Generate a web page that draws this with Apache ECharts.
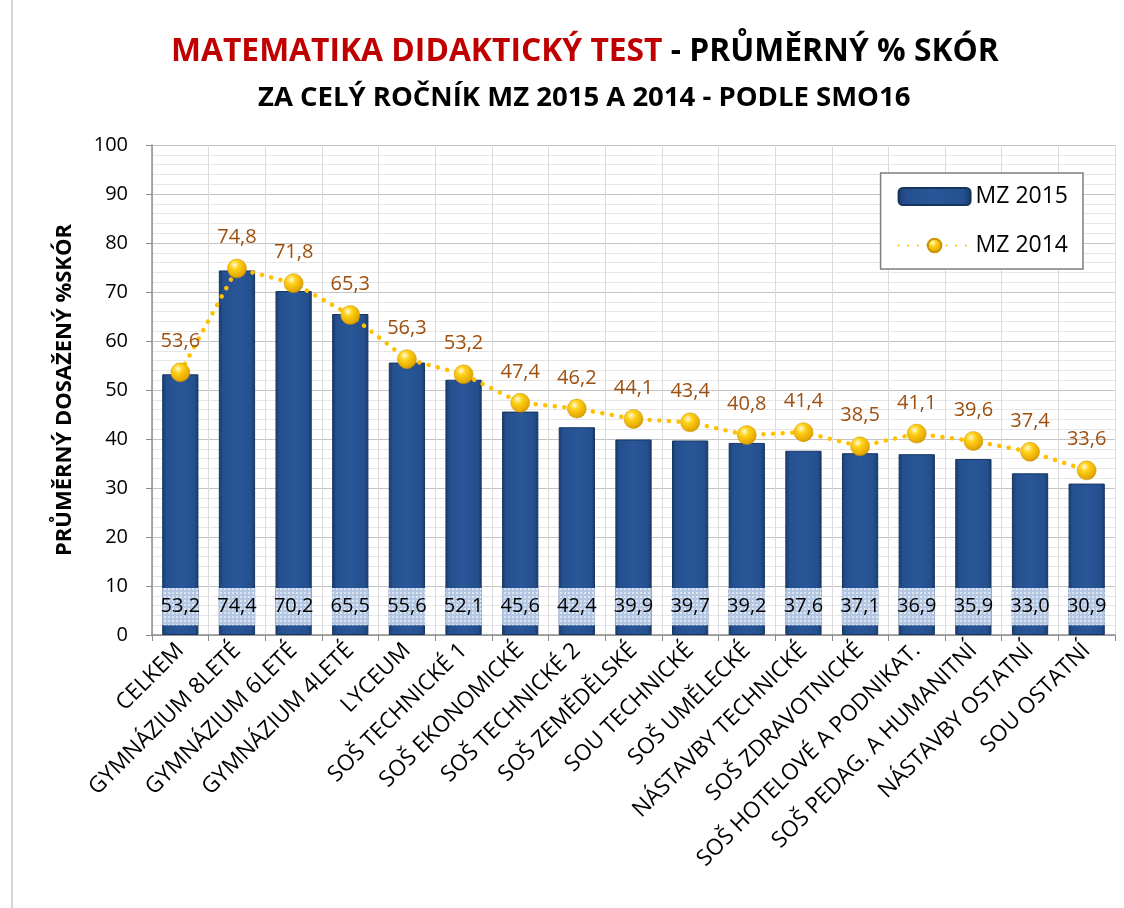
<!DOCTYPE html>
<html>
<head>
<meta charset="utf-8">
<script src="https://cdn.jsdelivr.net/npm/echarts@6/dist/echarts.min.js"></script>
<style>
  html, body { margin:0; padding:0; background:#fff; }
  #chart { width:1124px; height:908px; }
</style>
</head>
<body>
<div id="chart"></div>
<script>
const categories = ['CELKEM','GYMNÁZIUM 8LETÉ','GYMNÁZIUM 6LETÉ','GYMNÁZIUM 4LETÉ','LYCEUM','SOŠ TECHNICKÉ 1','SOŠ EKONOMICKÉ','SOŠ TECHNICKÉ 2','SOŠ ZEMĚDĚLSKÉ','SOU TECHNICKÉ','SOŠ UMĚLECKÉ','NÁSTAVBY TECHNICKÉ','SOŠ ZDRAVOTNICKÉ','SOŠ HOTELOVÉ A PODNIKAT.','SOŠ PEDAG. A HUMANITNÍ','NÁSTAVBY OSTATNÍ','SOU OSTATNÍ'];
const mz2015 = [53.2,74.4,70.2,65.5,55.6,52.1,45.6,42.4,39.9,39.7,39.2,37.6,37.1,36.9,35.9,33.0,30.9];
const mz2014 = [53.6,74.8,71.8,65.3,56.3,53.2,47.4,46.2,44.1,43.4,40.8,41.4,38.5,41.1,39.6,37.4,33.6];
// label band inside bars (value range)
const bandFrom = 2, bandTo = 9.6;

const fmt = v => v.toFixed(1).replace('.', ',');

const chart = echarts.init(document.getElementById('chart'));

const barColor = new echarts.graphic.LinearGradient(0,0,1,0,[
  { offset:0, color:'#1a3b6c' },
  { offset:0.12, color:'#25508f' },
  { offset:0.5, color:'#285698' },
  { offset:0.88, color:'#25508f' },
  { offset:1, color:'#1a3b6c' }
]);
const ball = new echarts.graphic.RadialGradient(0.38,0.32,0.75,[
  { offset:0, color:'#fffbe0' },
  { offset:0.3, color:'#ffd21a' },
  { offset:0.8, color:'#e6a800' },
  { offset:1, color:'#b98400' }
]);

chart.setOption({
  backgroundColor:'#fff',
  animation:false,
  title:[
    { text:'{r|MATEMATIKA DIDAKTICKÝ TEST}{k| - PRŮMĚRNÝ % SKÓR}', left:166, top:31,
      textStyle:{ rich:{
        r:{ fontFamily:'Open Sans', fontWeight:'bold', fontSize:31.8, color:'#c00000' },
        k:{ fontFamily:'Open Sans', fontWeight:'bold', fontSize:31.8, color:'#000' } } } },
    { text:'ZA CELÝ ROČNÍK MZ 2015 A 2014 - PODLE SMO16', left:253, top:79,
      textStyle:{ fontFamily:'Open Sans', fontWeight:'bold', fontSize:27.5, color:'#000' } }
  ],
  legend:{
    right:41, top:173, orient:'vertical', itemGap:26, padding:[12,15,12,17],
    backgroundColor:'#fff', borderColor:'#7f7f7f', borderWidth:1.5,
    itemWidth:72, itemHeight:17,
    textStyle:{ fontFamily:'Open Sans', fontSize:23, color:'#000' },
    data:['MZ 2015','MZ 2014']
  },
  grid:{ left:152, right:9, top:145, bottom:273 },
  xAxis:{
    type:'category', data:categories,
    axisLine:{ lineStyle:{ color:'#8c8c8c', width:1.5 } },
    axisTick:{ show:true, length:6, lineStyle:{ color:'#8c8c8c' } },
    splitLine:{ show:true, lineStyle:{ color:'#dcdcdc' } },
    axisLabel:{ rotate:45, interval:0, margin:12, fontFamily:'Open Sans', fontSize:22.5, color:'#000' }
  },
  yAxis:{
    type:'value', min:0, max:100, interval:10,
    name:'PRŮMĚRNÝ DOSAŽENÝ %SKÓR', nameLocation:'middle', nameGap:76, nameRotate:90,
    nameTextStyle:{ fontFamily:'Open Sans', fontWeight:'bold', fontSize:22, color:'#000' },
    axisLine:{ show:true, lineStyle:{ color:'#8c8c8c', width:1.5 } },
    axisTick:{ show:true, length:6, lineStyle:{ color:'#8c8c8c' } },
    axisLabel:{ fontFamily:'Open Sans', fontSize:20, color:'#000', margin:24 },
    splitLine:{ lineStyle:{ color:'#c4c4c4' } },
    minorTick:{ show:false, splitNumber:5 },
    minorSplitLine:{ show:true, lineStyle:{ color:'#e6e6e6' } }
  },
  series:[
    { name:'MZ 2015', type:'bar', data:mz2015, barWidth:'64%', barGap:'-100%',
      itemStyle:{ color:barColor, borderColor:'#17365f', borderWidth:1 } },
    { name:'base', type:'bar', stack:'band', barWidth:'64%', barGap:'-100%', silent:true,
      data:mz2015.map(() => bandFrom), itemStyle:{ color:'transparent' } },
    { name:'band', type:'bar', stack:'band', barWidth:'64%', barGap:'-100%', silent:true,
      data:mz2015.map(() => bandTo - bandFrom),
      itemStyle:{ color:'#b3c6e2',
        decal:{ symbol:'rect', symbolSize:1, dashArrayX:[2,2], dashArrayY:[2,2], color:'rgba(255,255,255,0.55)', rotation:0 } },
      label:{ show:true, position:'inside', fontFamily:'Open Sans', fontSize:20, color:'#000',
        formatter:p => fmt(mz2015[p.dataIndex]) } },
    { name:'MZ 2014', type:'line', data:mz2014, z:5,
      symbol:'circle', symbolSize:19,
      itemStyle:{ color:ball, borderColor:'#c89400', borderWidth:0.5 },
      lineStyle:{ color:'#ffc000', width:4.5, type:[0.1,9.5], cap:'round' },
      label:{ show:true, position:'top', distance:11, fontFamily:'Open Sans', fontSize:20, color:'#9c4f0e',
        formatter:p => fmt(p.value) } }
  ],
  graphic:[
    { type:'line', shape:{ x1:12, y1:0, x2:12, y2:908 }, style:{ stroke:'#c8c8c8', lineWidth:1.5 } }
  ]
});
</script>
</body>
</html>
